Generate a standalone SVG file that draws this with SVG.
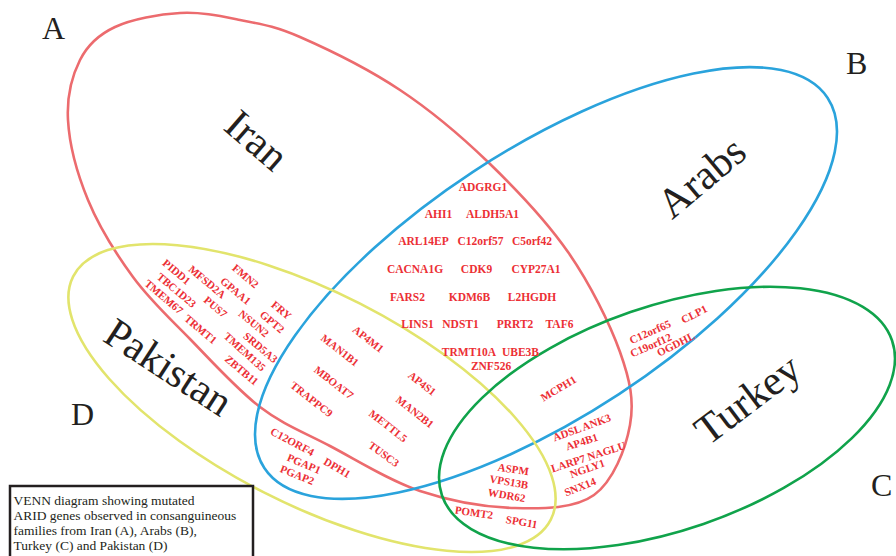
<svg xmlns="http://www.w3.org/2000/svg" width="896" height="556" viewBox="0 0 896 556">
<style>
.set{fill:none;stroke-width:2.6}
.big{font-family:"Liberation Serif",serif;font-size:42px;fill:#231f20;text-anchor:middle}
.letter{font-family:"Liberation Serif",serif;font-size:32px;fill:#231f20}
.g{font-family:"Liberation Serif",serif;font-weight:bold;font-size:11px;fill:#ec2f35;text-anchor:middle}
.h{font-family:"Liberation Serif",serif;font-weight:bold;font-size:11.5px;fill:#ec2f35;text-anchor:middle}
.leg{font-family:"Liberation Serif",serif;font-size:13.5px;fill:#231f20}
</style>
<rect width="896" height="556" fill="#fff"/>
<g id="set-iran">
<path class="set" stroke="#ec6b6e" d="M180,13 C200.8,11.8 220,16 240,20 C260,24 273.3,25.3 300,37 C326.7,48.7 368.7,69.2 400,90 C431.3,110.8 460,135 488,162 C516,189 546,220.3 568,252 C590,283.7 609.7,323.2 620,352 C630.3,380.8 634.3,401.2 630,425 C625.7,448.8 613.2,481.2 594,495 C574.8,508.8 544,508.7 515,508 C486,507.3 450.8,501.3 420,491 C389.2,480.7 356.7,460 330,446 C303.3,432 283.3,424.8 260,407 C236.7,389.2 211.2,360.7 190,339 C168.8,317.3 150,300.2 133,277 C116,253.8 98.8,226.2 88,200 C77.2,173.8 69.3,143.3 68,120 C66.7,96.7 72.2,75.5 80,60 C87.8,44.5 98.3,34.8 115,27 C131.7,19.2 159.2,14.2 180,13 Z"/>
<text class="big" transform="translate(256 141) rotate(41)" y="13">Iran</text>
<text class="letter" x="42" y="39">A</text>
</g>
<g id="set-arabs">
<ellipse class="set" stroke="#2aa3dc" cx="546" cy="283" rx="337" ry="133" transform="rotate(-33.3 546 283)"/>
<text class="big" transform="translate(702 178) rotate(-40)" y="13">Arabs</text>
<text class="letter" x="846" y="74">B</text>
</g>
<g id="set-pakistan">
<ellipse class="set" stroke="#e2e46c" cx="312" cy="398" rx="268" ry="106" transform="rotate(27 312 398)"/>
<text class="big" transform="translate(168 368) rotate(33)" y="13">Pakistan</text>
<text class="letter" x="71" y="425">D</text>
</g>
<g id="set-turkey">
<ellipse class="set" stroke="#10a34b" cx="667" cy="418" rx="238" ry="112" transform="rotate(-19 667 418)"/>
<text class="big" transform="translate(748 400) rotate(-37)" y="13">Turkey</text>
<text class="letter" x="871" y="496">C</text>
</g>
<g id="genes-iran-pakistan">
<text class="g" transform="translate(176.7 271.7) rotate(40)" y="4">PIDD1</text>
<text class="g" transform="translate(176.7 290) rotate(40)" y="4">TBC1D23</text>
<text class="g" transform="translate(164 296.7) rotate(40)" y="4">TMEM67</text>
<text class="g" transform="translate(207.3 281.7) rotate(40)" y="4">MFSD2A</text>
<text class="g" transform="translate(215.7 306.7) rotate(40)" y="4">PUS7</text>
<text class="g" transform="translate(245.7 276) rotate(40)" y="4">FMN2</text>
<text class="g" transform="translate(235.7 290.7) rotate(40)" y="4">GPAA1</text>
<text class="g" transform="translate(281.7 310) rotate(40)" y="4">FRY</text>
<text class="g" transform="translate(272.3 321.7) rotate(40)" y="4">GPT2</text>
<text class="g" transform="translate(254 323.3) rotate(40)" y="4">NSUN2</text>
<text class="g" transform="translate(260.7 347.3) rotate(40)" y="4">SRD5A3</text>
<text class="g" transform="translate(200.7 329) rotate(40)" y="4">TRMT1</text>
<text class="g" transform="translate(245 351.7) rotate(42)" y="4">TMEM135</text>
<text class="g" transform="translate(241.7 370) rotate(40)" y="4">ZBTB11</text>
</g>
<g id="genes-iran-arabs">
<text class="h" x="483" y="191">ADGRG1</text>
<text class="h" x="438.5" y="218">AHI1</text>
<text class="h" x="492.5" y="218">ALDH5A1</text>
<text class="h" x="423.5" y="245">ARL14EP</text>
<text class="h" x="480.5" y="245">C12orf57</text>
<text class="h" x="532" y="245">C5orf42</text>
<text class="h" x="415" y="273">CACNA1G</text>
<text class="h" x="476.5" y="273">CDK9</text>
<text class="h" x="536" y="273">CYP27A1</text>
<text class="h" x="407.5" y="301">FARS2</text>
<text class="h" x="469.5" y="301">KDM6B</text>
<text class="h" x="532" y="301">L2HGDH</text>
<text class="h" x="417.5" y="328">LINS1</text>
<text class="h" x="460.5" y="328">NDST1</text>
<text class="h" x="515" y="328">PRRT2</text>
<text class="h" x="559.5" y="328">TAF6</text>
<text class="h" x="469" y="356">TRMT10A</text>
<text class="h" x="520.5" y="356">UBE3B</text>
<text class="h" x="491" y="370">ZNF526</text>
</g>
<g id="genes-iran-arabs-pakistan">
<text class="g" transform="translate(368.3 339) rotate(38)" y="4">AP4M1</text>
<text class="g" transform="translate(340 350) rotate(38)" y="4">MAN1B1</text>
<text class="g" transform="translate(334 382.3) rotate(38)" y="4">MBOAT7</text>
<text class="g" transform="translate(311.7 399) rotate(38)" y="4">TRAPPC9</text>
<text class="g" transform="translate(422.3 383.3) rotate(38)" y="4">AP4S1</text>
<text class="g" transform="translate(415 411.7) rotate(38)" y="4">MAN2B1</text>
<text class="g" transform="translate(388.3 425.7) rotate(38)" y="4">METTL5</text>
<text class="g" transform="translate(384 454) rotate(36)" y="4">TUSC3</text>
</g>
<g id="genes-arabs-pakistan">
<text class="g" transform="translate(292.5 441.5) rotate(28)" y="4">C12ORF4</text>
<text class="g" transform="translate(304 463.5) rotate(23)" y="4">PGAP1</text>
<text class="g" transform="translate(297.3 474.7) rotate(22)" y="4">PGAP2</text>
<text class="g" transform="translate(337.3 467.5) rotate(30)" y="4">DPH1</text>
</g>
<g id="genes-turkey">
<text class="g" transform="translate(650 331.7) rotate(-24)" y="4">C12orf65</text>
<text class="g" transform="translate(694 314) rotate(-27)" y="4">CLP1</text>
<text class="g" transform="translate(650.7 345) rotate(-24)" y="4">C19orf12</text>
<text class="g" transform="translate(675.7 344) rotate(-27)" y="4">OGDHL</text>
<text class="g" transform="translate(558.3 388.3) rotate(-31)" y="4">MCPH1</text>
<text class="g" transform="translate(581.7 427.3) rotate(-20)" y="4">ADSL ANK3</text>
<text class="g" transform="translate(581.7 441.7) rotate(-18)" y="4">AP4B1</text>
<text class="g" transform="translate(588.3 456.7) rotate(-18)" y="4">LARP7 NAGLU</text>
<text class="g" transform="translate(587.3 468.3) rotate(-20)" y="4">NGLY1</text>
<text class="g" transform="translate(580 486.7) rotate(-22)" y="4">SNX14</text>
<text class="g" transform="translate(513.3 469) rotate(8)" y="4">ASPM</text>
<text class="g" transform="translate(509 481.7) rotate(10)" y="4">VPS13B</text>
<text class="g" transform="translate(506.7 495) rotate(10)" y="4">WDR62</text>
<text class="g" transform="translate(474 512.3) rotate(8)" y="4">POMT2</text>
<text class="g" transform="translate(521.7 521.7) rotate(10)" y="4">SPG11</text>
</g>
<g id="legend">
<rect x="10" y="486" width="243" height="80" fill="#fff" stroke="#231f20" stroke-width="2.5"/>
<text class="leg" x="13.5" y="505">VENN diagram showing mutated</text>
<text class="leg" x="13.5" y="520">ARID genes observed in consanguineous</text>
<text class="leg" x="13.5" y="535">families from Iran (A), Arabs (B),</text>
<text class="leg" x="13.5" y="550">Turkey (C) and Pakistan (D)</text>
</g>
</svg>
